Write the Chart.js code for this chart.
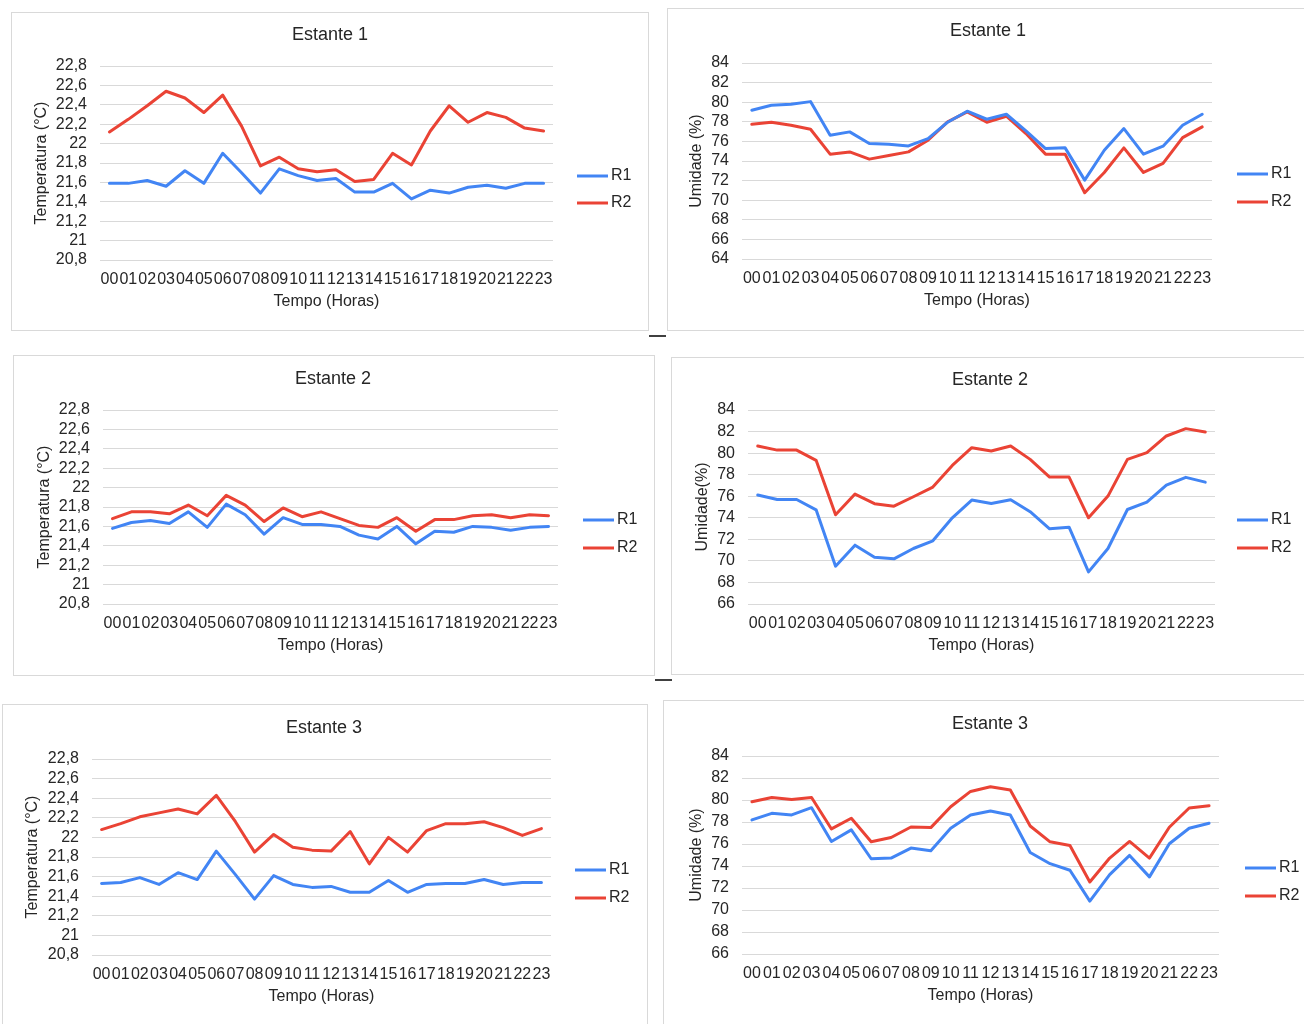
<!DOCTYPE html>
<html><head><meta charset="utf-8">
<script src="https://cdn.jsdelivr.net/npm/chart.js@4.4.1/dist/chart.umd.min.js"></script>
<style>
html,body{margin:0;padding:0;background:#fff;overflow:hidden;width:1304px;height:1024px;}
.box{position:absolute;border:1px solid #d9d9d9;box-sizing:border-box;}
canvas{position:absolute;}
.dash{position:absolute;height:2px;background:#404040;}
</style></head><body>
<div class="dash" style="left:649px;top:335px;width:17px;"></div>
<div class="dash" style="left:655px;top:679px;width:17px;"></div>
<script>
// ---------------- DATA ----------------
const hours = ['00','01','02','03','04','05','06','07','08','09','10','11','12','13','14','15','16','17','18','19','20','21','22','23'];
const seriesNames = ['R1','R2'];

const e1TempR1 = [21.59,21.59,21.62,21.56,21.72,21.59,21.90,21.70,21.49,21.74,21.67,21.62,21.64,21.50,21.50,21.59,21.43,21.52,21.49,21.55,21.57,21.54,21.59,21.59];
const e1TempR2 = [22.12,22.25,22.39,22.54,22.47,22.32,22.50,22.18,21.77,21.86,21.74,21.71,21.73,21.61,21.63,21.90,21.78,22.13,22.39,22.22,22.32,22.27,22.16,22.13];

const e1HumR1 = [79.18,79.69,79.79,80.06,76.63,76.97,75.78,75.71,75.54,76.29,77.96,79.08,78.26,78.77,77.07,75.27,75.34,72.05,75.10,77.31,74.70,75.51,77.65,78.77];
const e1HumR2 = [77.75,77.96,77.65,77.24,74.70,74.93,74.19,74.56,74.93,76.12,77.99,79.01,77.96,78.57,76.80,74.70,74.70,70.76,72.83,75.34,72.83,73.75,76.39,77.48];

const e2TempR1 = [21.58,21.64,21.66,21.63,21.75,21.59,21.83,21.72,21.52,21.69,21.62,21.62,21.60,21.51,21.47,21.60,21.42,21.55,21.54,21.60,21.59,21.56,21.59,21.60];
const e2TempR2 = [21.68,21.75,21.75,21.73,21.82,21.71,21.92,21.82,21.65,21.79,21.70,21.75,21.68,21.61,21.59,21.69,21.55,21.67,21.67,21.71,21.72,21.69,21.72,21.71];

const e2HumR1 = [76.11,75.70,75.70,74.74,69.51,71.46,70.34,70.19,71.15,71.86,74.00,75.64,75.33,75.67,74.56,72.98,73.13,68.98,71.15,74.77,75.45,77.03,77.75,77.31];
const e2HumR2 = [80.66,80.28,80.28,79.33,74.28,76.20,75.31,75.08,75.95,76.85,78.86,80.50,80.19,80.66,79.42,77.78,77.78,74.00,76.01,79.42,80.04,81.59,82.27,81.96];

const e3TempR1 = [21.53,21.54,21.59,21.52,21.64,21.57,21.86,21.62,21.37,21.61,21.52,21.49,21.50,21.44,21.44,21.56,21.44,21.52,21.53,21.53,21.57,21.52,21.54,21.54];
const e3TempR2 = [22.08,22.14,22.21,22.25,22.29,22.24,22.43,22.16,21.85,22.03,21.90,21.87,21.86,22.06,21.73,22.00,21.85,22.07,22.14,22.14,22.16,22.10,22.02,22.09];

const e3HumR1 = [78.19,78.79,78.64,79.30,76.23,77.28,74.66,74.72,75.63,75.39,77.43,78.64,79.00,78.64,75.23,74.21,73.61,70.81,73.22,74.96,73.01,76.02,77.43,77.89];
const e3HumR2 = [79.84,80.23,80.05,80.23,77.37,78.34,76.20,76.59,77.55,77.49,79.39,80.78,81.20,80.90,77.64,76.20,75.87,72.55,74.72,76.23,74.72,77.52,79.27,79.48];

const titles = ['Estante 1','Estante 1','Estante 2','Estante 2','Estante 3','Estante 3'];
const tempAxisTitle = 'Temperatura (°C)';
const humAxisTitles = ['Umidade (%)','Umidade(%)','Umidade (%)'];
const xAxisTitle = 'Tempo (Horas)';
const tempRange = [20.8, 22.8, 0.2];
const humRange1 = [64, 84, 2];
const humRange = [66, 84, 2];

// ---------------- LAYOUT ----------------
const BLUE = '#4285F4', RED = '#EA4335';
const FONT = '"Liberation Sans", Arial, Helvetica, sans-serif';
const TXT = '#262626';

const panels = [
  {box:[11,12,649,331], plot:[100,66,553,260], title:titles[0], yt:tempAxisTitle, ytx:42, leg:[577,176,203], r1:e1TempR1, r2:e1TempR2, range:tempRange},
  {box:[667,8,1320,331], plot:[742,63,1212,259], title:titles[1], yt:humAxisTitles[0], ytx:697, leg:[1237,174,202], r1:e1HumR1, r2:e1HumR2, range:humRange1},
  {box:[13,355,655,676], plot:[103,410,558,604], title:titles[2], yt:tempAxisTitle, ytx:45, leg:[583,520,548], r1:e2TempR1, r2:e2TempR2, range:tempRange},
  {box:[671,357,1320,675], plot:[748,410,1215,604], title:titles[3], yt:humAxisTitles[1], ytx:703, leg:[1237,520,548], r1:e2HumR1, r2:e2HumR2, range:humRange},
  {box:[2,704,648,1040], plot:[92,759,551,955], title:titles[4], yt:tempAxisTitle, ytx:33, leg:[575,870,898], r1:e3TempR1, r2:e3TempR2, range:tempRange},
  {box:[663,700,1320,1040], plot:[742,756,1219,954], title:titles[5], yt:humAxisTitles[2], ytx:697, leg:[1245,868,896], r1:e3HumR1, r2:e3HumR2, range:humRange}
];
const titleX = [330,988,333,990,324,990];
const titleY = [35,31,379,380,728,724];

const decor = {
  id:'decor',
  afterDraw(chart, args, o){
    const ctx = chart.ctx, ca = chart.chartArea;
    ctx.save();
    ctx.fillStyle = TXT;
    ctx.textBaseline = 'middle';
    ctx.font = '18px ' + FONT;
    ctx.textAlign = 'center';
    ctx.fillText(o.title, o.tx, o.ty);
    ctx.font = '16px ' + FONT;
    ctx.fillText(o.xtitle, (ca.left+ca.right)/2, ca.bottom + 42);
    ctx.save();
    ctx.translate(o.ytx, (ca.top+ca.bottom)/2);
    ctx.rotate(-Math.PI/2);
    ctx.fillText(o.ytitle, 0, 0);
    ctx.restore();
    const ds = chart.data.datasets;
    [o.ly1, o.ly2].forEach((y, i) => {
      ctx.strokeStyle = ds[i].borderColor;
      ctx.lineWidth = 3;
      ctx.beginPath();
      ctx.moveTo(o.lx, y); ctx.lineTo(o.lx + 31, y);
      ctx.stroke();
      ctx.textAlign = 'left';
      ctx.fillStyle = TXT;
      ctx.fillText(ds[i].label, o.lx + 34, y);
    });
    ctx.restore();
  }
};

function fmt(v){ const r = Math.round(v*10)/10; return String(r).replace('.', ','); }

panels.forEach((p, idx) => {
  const [bl, bt, br, bb] = p.box;
  const w = br - bl, h = bb - bt;
  const div = document.createElement('div');
  div.className = 'box';
  div.style.cssText = `left:${bl}px;top:${bt}px;width:${w}px;height:${h}px;`;
  const cv = document.createElement('canvas');
  cv.width = w; cv.height = h;
  cv.style.cssText = `left:${bl}px;top:${bt}px;width:${w}px;height:${h}px;`;
  document.body.appendChild(cv);
  document.body.appendChild(div);
  const [pl, pt, pr, pb] = p.plot;
  const yW = pl - bl, xH = h - (pb - bt);
  new Chart(cv, {
    type:'line',
    data:{
      labels: hours,
      datasets:[
        {label:seriesNames[0], data:p.r1, borderColor:BLUE, backgroundColor:BLUE, borderWidth:3, pointRadius:0, tension:0, borderJoinStyle:'round', borderCapStyle:'round'},
        {label:seriesNames[1], data:p.r2, borderColor:RED, backgroundColor:RED, borderWidth:3, pointRadius:0, tension:0, borderJoinStyle:'round', borderCapStyle:'round'}
      ]
    },
    options:{
      responsive:false, animation:false, devicePixelRatio:1,
      layout:{padding:{left:0, top:pt - bt, right:w - (pr - bl), bottom:0}},
      plugins:{
        legend:{display:false}, tooltip:{enabled:false}, title:{display:false},
        decor:{title:p.title, tx:titleX[idx] - bl, ty:titleY[idx]-bt, xtitle:xAxisTitle, ytitle:p.yt, ytx:p.ytx - bl, lx:p.leg[0]-bl, ly1:p.leg[1]-bt, ly2:p.leg[2]-bt}
      },
      scales:{
        x:{
          offset:true,
          grid:{display:false, drawTicks:false},
          border:{display:false},
          ticks:{autoSkip:false, maxRotation:0, minRotation:0, padding:10, color:TXT, font:{family:FONT, size:16}},
          afterFit(s){ s.height = xH; }
        },
        y:{
          min:p.range[0], max:p.range[1],
          grid:{color:'#d9d9d9', lineWidth:1, drawTicks:false},
          border:{display:false},
          ticks:{autoSkip:false, stepSize:p.range[2], padding:13, color:TXT, font:{family:FONT, size:16}, callback:(v)=>fmt(v)},
          afterFit(s){ s.width = yW; }
        }
      }
    },
    plugins:[decor]
  });
});
</script>
</body></html>
